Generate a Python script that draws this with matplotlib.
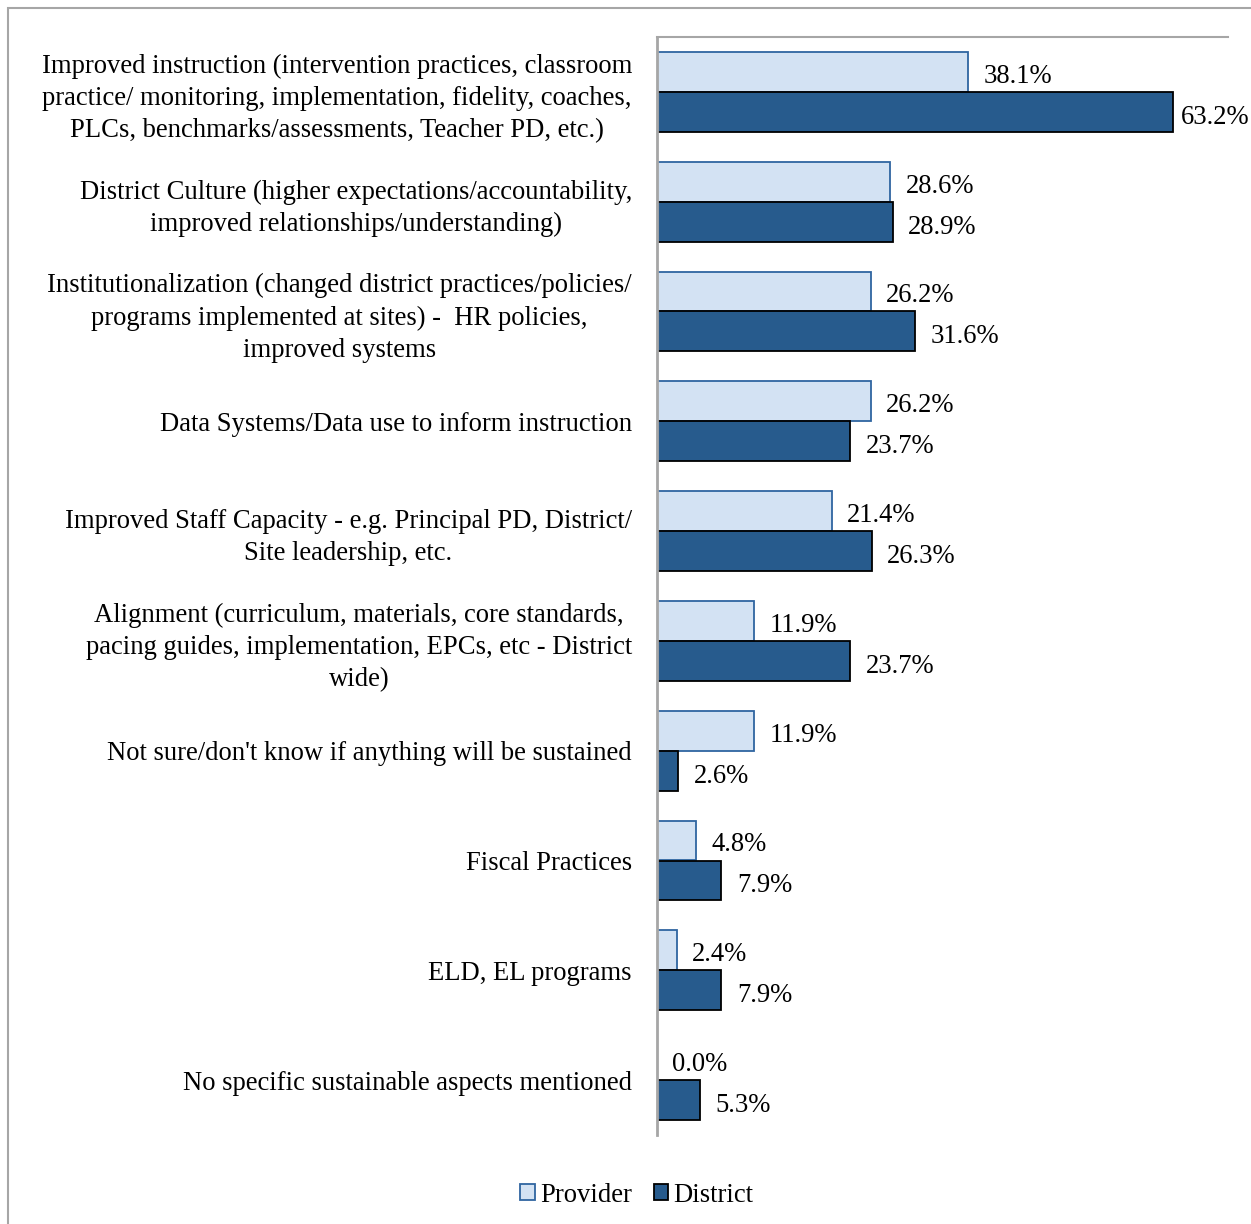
import numpy as np
import matplotlib.pyplot as plt
from matplotlib.patches import Rectangle

categories = [
    "Improved instruction (intervention practices, classroom\npractice/ monitoring, implementation, fidelity, coaches,\nPLCs, benchmarks/assessments, Teacher PD, etc.)",
    "District Culture (higher expectations/accountability,\nimproved relationships/understanding)",
    "Institutionalization (changed district practices/policies/\nprograms implemented at sites) -  HR policies,\nimproved systems",
    "Data Systems/Data use to inform instruction",
    "Improved Staff Capacity - e.g. Principal PD, District/\nSite leadership, etc.",
    "Alignment (curriculum, materials, core standards,\npacing guides, implementation, EPCs, etc - District\nwide)",
    "Not sure/don't know if anything will be sustained",
    "Fiscal Practices",
    "ELD, EL programs",
    "No specific sustainable aspects mentioned",
]
provider = [38.1, 28.6, 26.2, 26.2, 21.4, 11.9, 11.9, 4.8, 2.4, 0.0]
district = [63.2, 28.9, 31.6, 23.7, 26.3, 23.7, 2.6, 7.9, 7.9, 5.3]

plt.rcParams['font.family'] = ['Liberation Serif', 'DejaVu Serif']
fs = 19.2

fig = plt.figure(figsize=(12.51, 12.24), dpi=100)
fig.patches.append(Rectangle((8 / 1251, -0.1), 1.2, 1.1 - 8 / 1224,
                             transform=fig.transFigure, fill=False,
                             edgecolor='#a6a6a6', linewidth=1.5))
ax = fig.add_axes([657 / 1251, 1 - 1135 / 1224, (1228 - 657) / 1251, (1135 - 37) / 1224])

y = np.arange(len(categories))
h = 40 / 110
pc = '#d3e2f3'
dc = '#275b8d'
ax.barh(y - h / 2, provider, height=h, color=pc, edgecolor='#2f65a0', linewidth=1.3, label='Provider')
ax.barh(y + h / 2, district, height=h, color=dc, edgecolor='black', linewidth=1.3, label='District')

for i in range(len(categories)):
    ax.text(provider[i] + 1.9, y[i] - h / 2 + 0.04, f"{provider[i]:.1f}%", va='center', ha='left', fontsize=fs)
    ax.text(district[i] + 1.0 if i == 0 else district[i] + 1.9, y[i] + h / 2 + 0.05,
            f"{district[i]:.1f}%", va='center', ha='left', fontsize=fs)

ax.set_xlim(0, 70)
ax.set_ylim(len(categories) - 0.5, -0.5)
ax.set_yticks(y)
ax.set_yticklabels(categories, fontsize=fs, ha='right', multialignment='center', linespacing=1.37)
ax.tick_params(axis='y', length=0, pad=18)
ax.set_xticks([])
for s in ['right', 'bottom']:
    ax.spines[s].set_visible(False)
ax.spines['left'].set_color('#a6a6a6')
ax.spines['left'].set_linewidth(2)
ax.spines['top'].set_color('#a6a6a6')
ax.spines['top'].set_linewidth(1.5)

fig.legend(loc='center', bbox_to_anchor=(637 / 1251, 1 - 1195 / 1224), ncol=2, frameon=False,
           fontsize=fs, handlelength=0.55, handleheight=0.55, handletextpad=0.2, columnspacing=0.8)

fig.savefig('out.png', dpi=100)
